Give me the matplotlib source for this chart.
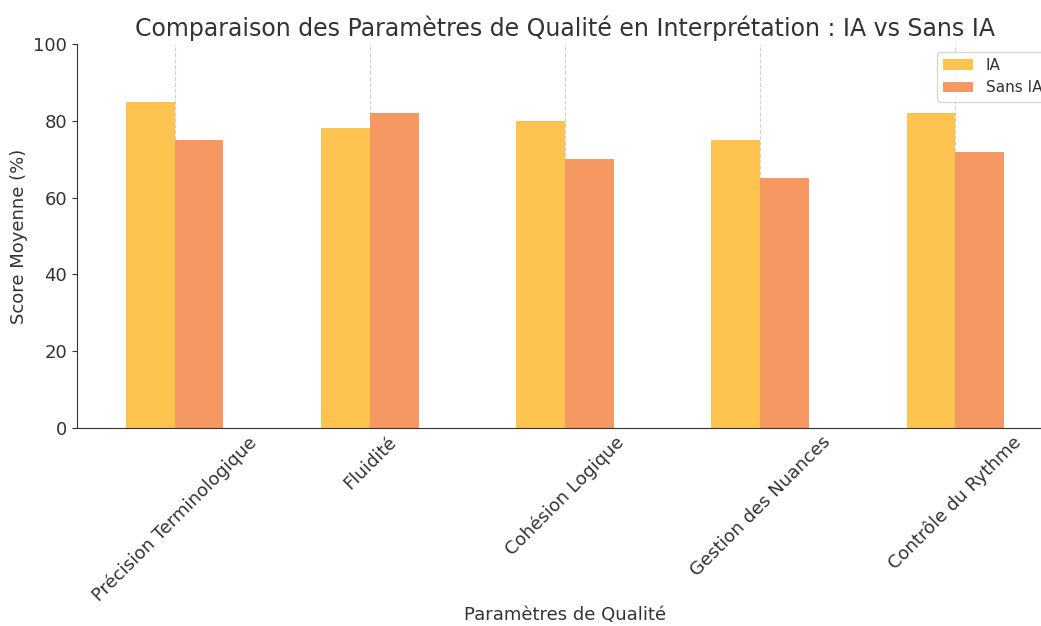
import matplotlib
matplotlib.use("Agg")
import matplotlib.pyplot as plt
import numpy as np

categories = [
    "Précision Terminologique",
    "Fluidité",
    "Cohésion Logique",
    "Gestion des Nuances",
    "Contrôle du Rythme",
]
ia_scores = [85, 78, 80, 75, 82]
sans_ia_scores = [75, 82, 70, 65, 72]

IA_COLOR = "#FEC44F"
SANS_COLOR = "#F59862"
TEXT_COLOR = "#333333"

W, H = 1041, 626
fig = plt.figure(figsize=(W / 100, H / 100), dpi=100)
# axes extends past the right edge of the image, as in the cropped reference
ax = fig.add_axes([77 / W, 1 - 428 / H, (1053 - 77) / W, (428 - 44) / H])

x = np.arange(len(categories))
width = 0.25
ax.bar(x - width / 2, ia_scores, width, color=IA_COLOR, label="IA", zorder=2)
ax.bar(x + width / 2, sans_ia_scores, width, color=SANS_COLOR, label="Sans IA", zorder=2)

ax.set_xlim(-0.5, len(categories) - 0.5)
ax.set_ylim(0, 100)
ax.set_xticks(x)
ax.set_xticklabels(categories, rotation=45, ha="center", fontsize=13, color=TEXT_COLOR)
ax.tick_params(axis="y", labelsize=13, labelcolor=TEXT_COLOR, colors=TEXT_COLOR)
ax.tick_params(axis="x", colors=TEXT_COLOR, direction="in", length=3)
ax.set_yticks([0, 20, 40, 60, 80, 100])

ax.grid(axis="x", linestyle="--", color="#d0d0d0", linewidth=0.8, zorder=0)
ax.spines["top"].set_visible(False)
ax.spines["right"].set_visible(False)
ax.spines["left"].set_color(TEXT_COLOR)
ax.spines["bottom"].set_color(TEXT_COLOR)

ax.set_title("Comparaison des Paramètres de Qualité en Interprétation : IA vs Sans IA",
             fontsize=17, color=TEXT_COLOR)
ax.set_ylabel("Score Moyenne (%)", fontsize=13, color=TEXT_COLOR)
ax.set_xlabel("Paramètres de Qualité", fontsize=13, color=TEXT_COLOR, labelpad=1)

leg = ax.legend(loc="upper left", bbox_to_anchor=(0.873, 1.0), fontsize=11)
for t in leg.get_texts():
    t.set_color(TEXT_COLOR)

fig.savefig("out.png", dpi=100)
